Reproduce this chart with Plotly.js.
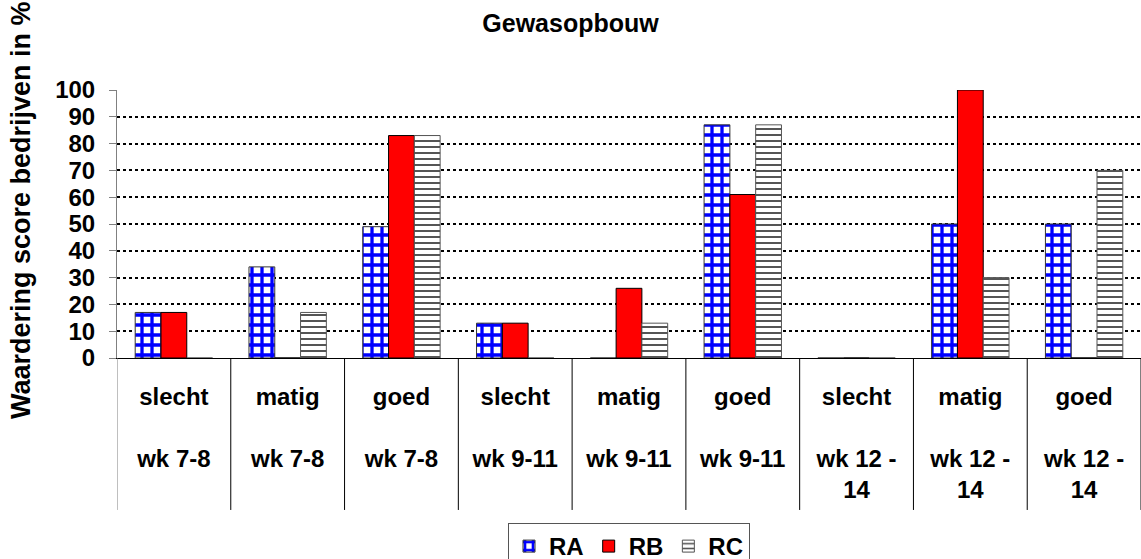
<!DOCTYPE html>
<html>
<head>
<meta charset="utf-8">
<script src="https://cdn.plot.ly/plotly-3.0.1.min.js"></script>
<style>html,body{margin:0;padding:0;background:#fff;}#chart{width:1141px;height:559px;}</style>
</head>
<body>
<div id="chart"></div>
<script>
var categories = ["slecht<br><br>wk 7-8", "matig<br><br>wk 7-8", "goed<br><br>wk 7-8",
                  "slecht<br><br>wk 9-11", "matig<br><br>wk 9-11", "goed<br><br>wk 9-11",
                  "slecht<br><br>wk 12 -<br>14", "matig<br><br>wk 12 -<br>14", "goed<br><br>wk 12 -<br>14"];
var seriesNames = ["RA", "RB", "RC"];
var valuesRA = [17, 34, 49, 13, 0, 87, 0, 50, 50];
var valuesRB = [17, 0, 83, 13, 26, 61, 0, 100, 0];
var valuesRC = [0, 17, 83, 0, 13, 87, 0, 30, 70];
var yTicks = [0, 10, 20, 30, 40, 50, 60, 70, 80, 90, 100];
var chartTitle = "Gewasopbouw";
var yTitle = "Waardering score bedrijven in %";

var xIdx = categories.map(function(_, i){ return i; });
var FONT = "Liberation Sans, Arial, sans-serif";

var traces = [
  {type:"bar", name:"<b>"+seriesNames[0]+"</b>", x:xIdx, y:valuesRA,
   marker:{color:"#ffffff", line:{color:"#333333", width:1},
           pattern:{shape:"+", fgcolor:"#0000ff", bgcolor:"#ffffff", size:10, solidity:0.55, fillmode:"replace"}}},
  {type:"bar", name:"<b>"+seriesNames[1]+"</b>", x:xIdx, y:valuesRB,
   marker:{color:"#ff0000", line:{color:"#000000", width:1}}},
  {type:"bar", name:"<b>"+seriesNames[2]+"</b>", x:xIdx, y:valuesRC,
   marker:{color:"#ffffff", line:{color:"#555555", width:1},
           pattern:{shape:"-", fgcolor:"#555555", bgcolor:"#ffffff", size:6, solidity:0.33, fillmode:"replace"}}}
];

var shapes = [];
for (var i = 0; i <= categories.length; i++) {
  shapes.push({type:"line", xref:"x", yref:"paper", x0:i-0.5, x1:i-0.5, y0:0, y1:-0.567,
               line:{color:(i===0?"#808080":"#000000"), width:1}});
}

var layout = {
  width:1141, height:559,
  margin:{l:117, r:0, t:90, b:201, pad:0},
  paper_bgcolor:"#ffffff", plot_bgcolor:"#ffffff",
  font:{family:FONT, color:"#000000"},
  title:{text:"<b>"+chartTitle+"</b>", font:{size:25, family:FONT, color:"#000"},
         x:0.5, xref:"container", xanchor:"center", y:0.959, yref:"container", yanchor:"middle"},
  barmode:"group", bargap:0.32, bargroupgap:0,
  showlegend:true,
  legend:{orientation:"h", xref:"paper", yref:"container", x:0.5, xanchor:"center",
          y:0.0644, yanchor:"top", bordercolor:"#555555", borderwidth:1,
          font:{size:24, family:FONT, color:"#000"}, itemwidth:30, traceorder:"normal", tracegroupgap:0},
  xaxis:{range:[-0.5, categories.length-0.5], tickmode:"array", tickvals:xIdx,
         ticktext:categories.map(function(c){ return "<b>"+c+"</b>"; }),
         ticks:"", showline:true, linecolor:"#000000", linewidth:1, showgrid:false, zeroline:false,
         tickfont:{size:24, family:FONT, color:"#000"}, ticklabelstandoff:17, automargin:false, fixedrange:true},
  yaxis:{range:[0,100], tickmode:"array", tickvals:yTicks,
         ticktext:yTicks.map(function(v){ return "<b>"+v+"</b>"; }),
         ticks:"outside", ticklen:7, tickcolor:"#808080", tickwidth:1,
         showline:true, linecolor:"#808080", linewidth:1,
         showgrid:true, gridcolor:"#000000", gridwidth:2, griddash:"3px,3px", zeroline:false,
         tickfont:{size:24, family:FONT, color:"#000"}, ticklabelstandoff:9,
         automargin:false, fixedrange:true},
  annotations:[{text:"<b>"+yTitle+"</b>", textangle:-90, xref:"paper", yref:"paper",
                x:(21-117)/1024, y:(358-210)/268, xanchor:"center", yanchor:"middle", showarrow:false,
                font:{size:27, family:FONT, color:"#000"}}],
  shapes:shapes
};

Plotly.newPlot("chart", traces, layout, {displayModeBar:false, staticPlot:true});
</script>
</body>
</html>
